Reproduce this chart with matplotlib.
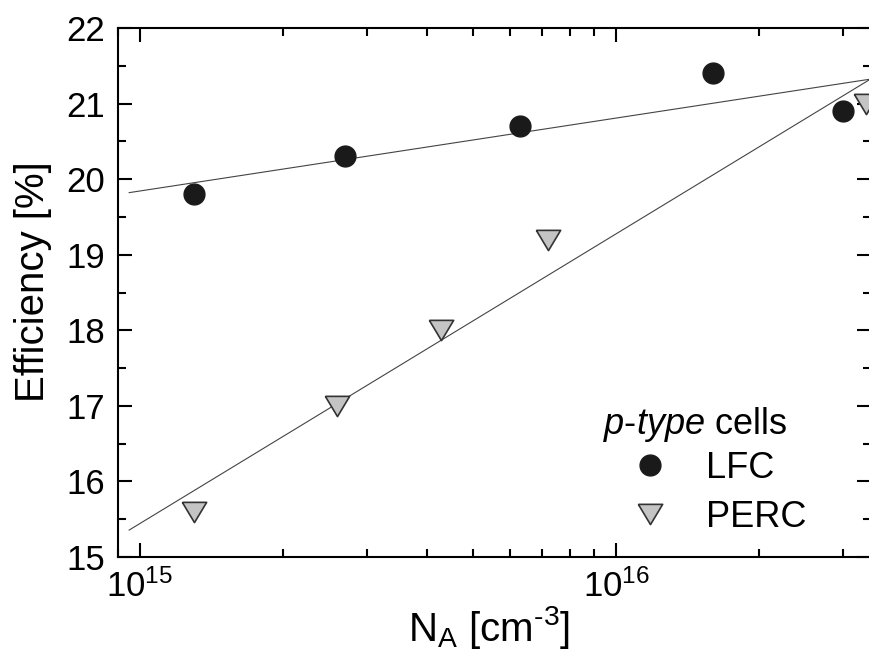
import numpy as np
import matplotlib
matplotlib.use('Agg')
import matplotlib.pyplot as plt

plt.rcParams['font.family'] = ['Liberation Sans', 'DejaVu Sans']
plt.rcParams['mathtext.fontset'] = 'custom'
plt.rcParams['mathtext.rm'] = 'Liberation Sans'
plt.rcParams['mathtext.it'] = 'Liberation Sans:italic'
plt.rcParams['mathtext.default'] = 'regular'

# data
lfc_na = [1.3e15, 2.7e15, 6.3e15, 1.6e16, 3.0e16]
lfc_eff = [19.8, 20.3, 20.7, 21.4, 20.9]
perc_na = [1.3e15, 2.6e15, 4.3e15, 7.2e15, 3.35e16]
perc_eff = [15.6, 17.0, 18.0, 19.2, 21.0]

fig = plt.figure(figsize=(8.69, 6.55), dpi=100)
ax = fig.add_axes([118/869, 1-557/655, (871-118)/869, (557-28)/655])

# log-linear fits
xfit = np.logspace(np.log10(9.5e14), np.log10(3.6e16), 50)
for xs, ys in [(lfc_na, lfc_eff), (perc_na, perc_eff)]:
    p = np.polyfit(np.log10(xs), ys, 1)
    ax.plot(xfit, np.polyval(p, np.log10(xfit)), color='#444444', lw=0.8, zorder=2)

ax.plot(lfc_na, lfc_eff, 'o', ms=15, color='#1a1a1a', mec='#1a1a1a',
        label='LFC', zorder=3, clip_on=False)
tri = [(-1.2, 1), (1.2, 1), (0, -1), (-1.2, 1)]
ax.plot(perc_na, perc_eff, ls='none', marker=tri, ms=17.5, mfc='#c4c4c4',
        mec='#333333', mew=1.2, label='PERC', zorder=3)

ax.set_xscale('log')
ax.set_xlim(9e14, 3.43e16)
ax.set_ylim(15, 22)
ax.set_yticks(range(15, 23))
ax.set_yticks(np.arange(15.5, 22, 1.0), minor=True)

ax.tick_params(which='both', direction='in', top=True, right=True,
               width=1.5, labelsize=25)
ax.tick_params(which='major', length=10, pad=9)
ax.tick_params(which='minor', length=6)
for s in ax.spines.values():
    s.set_linewidth(1.5)

ax.set_ylabel('Efficiency [%]', fontsize=29)
ax.yaxis.set_label_coords(-0.088, 0.52)
ax.set_xlabel('N$_{A}$ [cm$^{\\text{-}3}$]', fontsize=29)
ax.xaxis.set_label_coords(0.4927, -0.088)

leg = ax.legend(loc='upper left', bbox_to_anchor=(632/869, 1-451/655),
                bbox_transform=fig.transFigure, frameon=False, fontsize=26,
                handlelength=1.0, handletextpad=1.05, labelspacing=0.38,
                borderpad=0, borderaxespad=0, numpoints=1)
fig.text(603/869, 1-425/655, '$\\mathit{p}$-$\\mathit{type}$ cells',
         fontsize=26, va='center', ha='left')

fig.savefig('out.png', dpi=100)
